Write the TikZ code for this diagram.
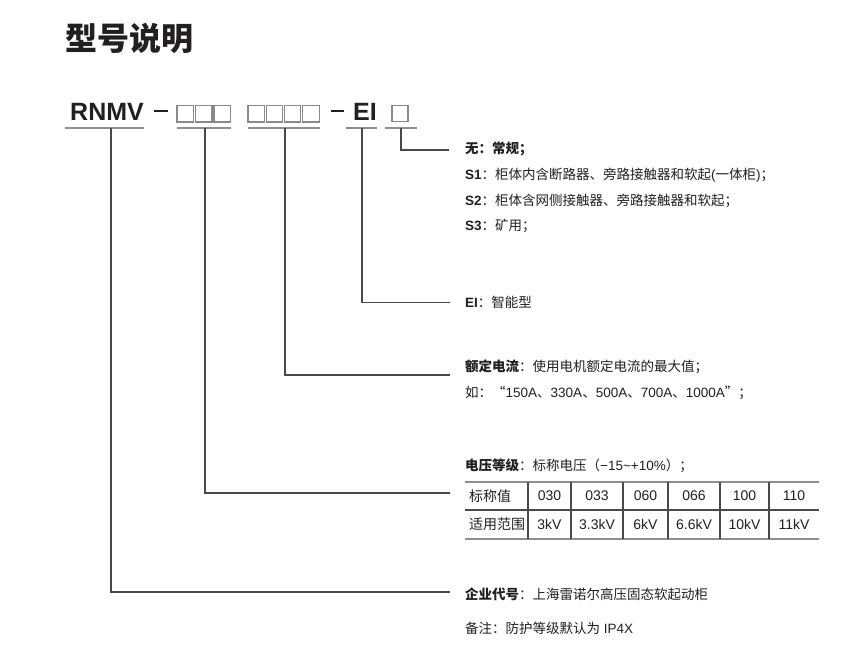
\documentclass[tikz,border=0pt]{standalone}
\usepackage{fontspec}
\setmainfont{Liberation Sans}
\newfontfamily\cjk{Noto Sans CJK SC}
\newcommand\zh[1]{{\cjk #1}}
\newcommand\zhb[1]{{\cjk\bfseries #1}}
\definecolor{ink}{HTML}{231F20}
\definecolor{connc}{HTML}{4A4A4A}
\definecolor{ulc}{HTML}{8E8E8E}
\definecolor{boxc}{HTML}{8A8A8A}
\begin{document}
\begin{tikzpicture}[x=1pt,y=-1pt,
  txt/.style={anchor=west,inner sep=0pt,text=ink,font=\fontsize{13.5}{16}\selectfont},
  code/.style={anchor=base west,inner sep=0pt,text=ink,font=\bfseries\fontsize{25}{28}\selectfont},
  conn/.style={draw=connc,line width=1.2pt},
  uline/.style={draw=ulc,line width=2pt},
  dashl/.style={draw=ink,line width=2.6pt},
  glyphbox/.style={draw=boxc,line width=1.1pt},
  cell/.style={inner sep=0pt,text=ink,font=\fontsize{14}{16}\selectfont},
  tline/.style={draw=connc,line width=1.1pt},
  tthick/.style={draw=ulc,line width=2pt}]
\useasboundingbox[fill=white] (0,0) rectangle (863,650);

% title
\node[anchor=west,inner sep=0pt,text=ink,font=\cjk\bfseries\fontsize{32}{36}\selectfont] (title) at (65,39) {型号说明};

% model code
\node[code] (rnmv) at (70,121) {RNMV};
\draw[dashl] (154,111) -- (168,111);
\foreach \i in {0,1,2} {\draw[glyphbox] ({177+18.5*\i},105.5) rectangle ++(16.5,16.5);}
\foreach \i in {0,1,2,3} {\draw[glyphbox] ({248+18.2*\i},105.5) rectangle ++(16.5,16.5);}
\draw[dashl] (331,111) -- (344,111);
\node[code] (ei) at (353,121) {EI};
\draw[glyphbox] (392,105.5) rectangle ++(16,16);

% underlines
\draw[uline] (65,128) -- (144,128);
\draw[uline] (177,128) -- (231,128);
\draw[uline] (248,128) -- (320,128);
\draw[uline] (346,128) -- (377,128);
\draw[uline] (385,128) -- (417,128);
\coordinate (u1) at (111,128);
\coordinate (u2) at (205,128);
\coordinate (u3) at (285,128);
\coordinate (u4) at (362,128);
\coordinate (u5) at (401,128);

% connector ends
\coordinate (e5) at (449,150);
\coordinate (e4) at (450,302.5);
\coordinate (e3) at (450,375);
\coordinate (e2) at (450,493);
\coordinate (e1) at (450,592);
\draw[conn] (u5) |- (e5);
\draw[conn] (u4) |- (e4);
\draw[conn] (u3) |- (e3);
\draw[conn] (u2) |- (e2);
\draw[conn] (u1) |- (e1);

% descriptions
\node[txt] (t0) at (465,149) {\zhb{无：常规；}};
\node[txt] (t1) at (465,175) {\textbf{S1}\zh{：柜体内含断路器、旁路接触器和软起}(\zh{一体柜})\zh{；}};
\node[txt] (t2) at (465,201) {\textbf{S2}\zh{：柜体含网侧接触器、旁路接触器和软起；}};
\node[txt] (t3) at (465,226) {\textbf{S3}\zh{：矿用；}};
\node[txt] (t4) at (465,302) {\textbf{EI}\zh{：智能型}};
\node[txt] (t5) at (465,367) {\zhb{额定电流}\zh{：使用电机额定电流的最大值；}};
\node[txt] (t6) at (465,393) {\zh{如：“}150A\zh{、}330A\zh{、}500A\zh{、}700A\zh{、}1000A\zh{”；}};
\node[txt] (t7) at (465,466) {\zhb{电压等级}\zh{：标称电压（}−15\textasciitilde+10\%\zh{）；}};
\node[txt] (t8) at (465,594) {\zhb{企业代号}\zh{：上海雷诺尔高压固态软起动柜}};
\node[txt] (t9) at (465,628) {\zh{备注：防护等级默认为} IP4X};

% table
\draw[tthick] (465,482) -- (819,482);
\draw[tline] (465,510) -- (819,510);
\draw[tthick] (465,538.5) -- (819,538.5);
\foreach \xx in {528,571,623,668,720,769} {\draw[tline] (\xx,482) -- (\xx,538.5);}
\node[cell,anchor=west] (c10) at (469,496) {\zh{标称值}};
\node[cell,anchor=west] (c20) at (469,524) {\zh{适用范围}};
\node[cell] (c11) at (549.5,496) {030};
\node[cell] (c12) at (597,496) {033};
\node[cell] (c13) at (645.5,496) {060};
\node[cell] (c14) at (694,496) {066};
\node[cell] (c15) at (744.5,496) {100};
\node[cell] (c16) at (794,496) {110};
\node[cell] (c21) at (549.5,524) {3kV};
\node[cell] (c22) at (597,524) {3.3kV};
\node[cell] (c23) at (645.5,524) {6kV};
\node[cell] (c24) at (694,524) {6.6kV};
\node[cell] (c25) at (744.5,524) {10kV};
\node[cell] (c26) at (794,524) {11kV};
\end{tikzpicture}
\end{document}
